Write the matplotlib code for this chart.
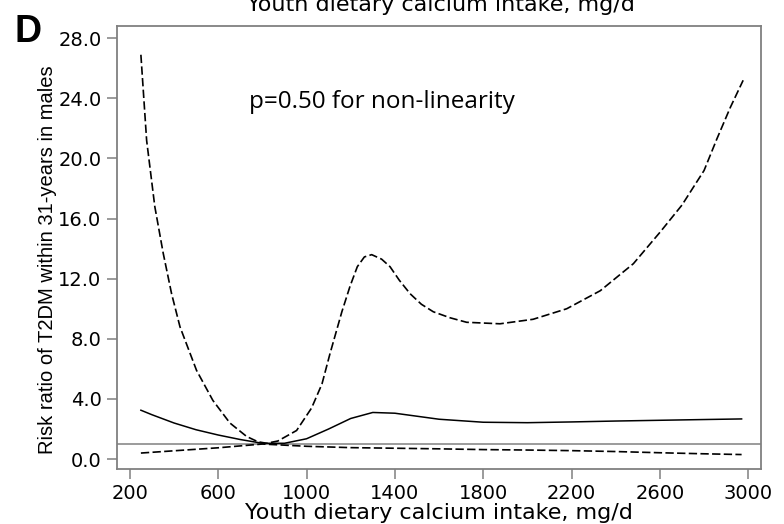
import matplotlib
matplotlib.use("Agg")
import matplotlib.pyplot as plt

# Values
x_est = [250, 300, 400, 500, 600, 700, 800, 900, 1000, 1100, 1200, 1300, 1400,
         1500, 1600, 1800, 2000, 2200, 2400, 2600, 2800, 2970]
rr_est = [3.25, 2.95, 2.4, 1.95, 1.6, 1.3, 1.05, 1.05, 1.35, 2.0, 2.7, 3.1, 3.05,
          2.85, 2.65, 2.45, 2.42, 2.47, 2.53, 2.58, 2.63, 2.67]

x_upper = [250, 276, 313, 351, 389, 427, 502, 576, 653, 729, 780, 819, 870, 955,
           1023, 1070, 1106, 1160, 1197, 1230, 1262, 1295, 1340, 1378, 1420, 1469,
           1520, 1574, 1650, 1725, 1876, 2026, 2178, 2330, 2480, 2601, 2700, 2800,
           2858, 2919, 2977]
rr_upper = [26.9, 21.2, 16.8, 13.7, 11.0, 8.8, 5.9, 3.9, 2.4, 1.5, 1.15, 1.05, 1.2,
            1.9, 3.4, 5.0, 7.0, 9.8, 11.5, 12.8, 13.45, 13.6, 13.3, 12.8, 11.9, 11.0,
            10.3, 9.8, 9.4, 9.1, 9.0, 9.3, 10.0, 11.2, 13.0, 15.1, 16.9, 19.2, 21.3,
            23.4, 25.2]

x_lower = [250, 400, 600, 800, 1000, 1200, 1400, 1600, 1800, 2000, 2200, 2400,
           2600, 2800, 2970]
rr_lower = [0.4, 0.55, 0.75, 1.0, 0.85, 0.76, 0.72, 0.68, 0.63, 0.6, 0.56, 0.5,
            0.42, 0.35, 0.3]

ref_value = 1.0
x_ticks = [200, 600, 1000, 1400, 1800, 2200, 2600, 3000]
y_ticks = [0, 4, 8, 12, 16, 20, 24, 28]
x_title = "Youth dietary calcium intake, mg/d"

fig = plt.figure(figsize=(7.84, 5.24), dpi=100)
ax = fig.add_axes([0.149, 0.105, 0.822, 0.845])

frame_gray = "#808080"
ax.axhline(ref_value, color=frame_gray, lw=1.1, zorder=1)
ax.plot(x_est, rr_est, color="black", lw=1.1, zorder=3)
ax.plot(x_upper, rr_upper, color="black", lw=1.2, dashes=(5, 2), zorder=3)
ax.plot(x_lower, rr_lower, color="black", lw=1.2, dashes=(5, 2), zorder=3)

ax.set_xlim(141, 3059)
ax.set_ylim(-0.66, 28.8)
ax.set_xticks(x_ticks)
ax.set_yticks(y_ticks)
ax.set_yticklabels([f"{v:.1f}" for v in y_ticks])

for side in ax.spines.values():
    side.set_color(frame_gray)
    side.set_linewidth(1.3)
ax.tick_params(axis="both", colors=frame_gray, labelcolor="black",
               length=7, width=1.1, labelsize=14)
ax.tick_params(axis="x", pad=4)
ax.tick_params(axis="y", pad=4)

ax.set_xlabel(x_title, fontsize=16)
ax.xaxis.set_label_coords(0.5, -0.076)
ax.set_ylabel("Risk ratio of T2DM within 31-years in males", fontsize=14.5,
              family="Liberation Sans")
ax.yaxis.set_label_coords(-0.093, 0.472)

ax.text(0.205, 0.815, "p=0.50 for non-linearity", transform=ax.transAxes,
        family="Open Sans", fontsize=17.5)
fig.text(0.019, 0.92, "D", fontsize=27, fontweight="bold",
         family="Liberation Sans")
# copy of the axis title, cut by the top edge as in the reference
fig.text(0.5625, 1 - 11 / 524, x_title, fontsize=16, ha="center",
         va="baseline")

fig.savefig("out.png", dpi=100)
